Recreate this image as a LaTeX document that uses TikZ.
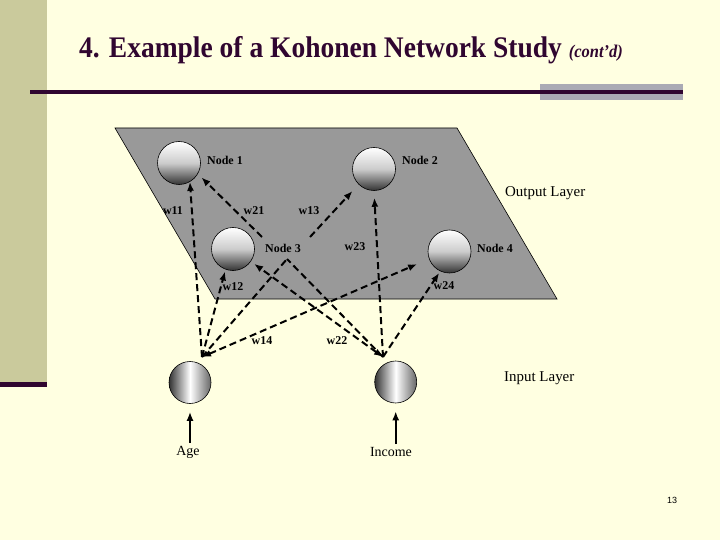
\documentclass[tikz,border=0pt]{standalone}
\usepackage{fontspec}
\setmainfont{Liberation Serif}
\newfontfamily\pagenumfont{Liberation Sans}
\usepackage{xcolor}
\usepackage{tikz}
\usetikzlibrary{arrows.meta, positioning, calc}

\definecolor{slidebg}{RGB}{255,255,225}
\definecolor{sidebar}{RGB}{202,202,156}
\definecolor{titlecol}{RGB}{48,6,48}
\definecolor{rulegray}{RGB}{170,170,180}
\definecolor{planegray}{RGB}{153,153,153}

\begin{document}
\begin{tikzpicture}[x=1bp, y=-1bp,
    outnode/.style={circle, draw, line width=0.6bp, minimum size=43bp, inner sep=0pt,
        top color=white, bottom color=black!80, middle color=black!20},
    innode/.style={circle, draw, line width=0.6bp, minimum size=42bp, inner sep=0pt,
        left color=black!80, right color=black!60, middle color=white},
    wlink/.style={line width=2bp, dash pattern=on 7bp off 4bp},
    wtip/.style={-{Latex[length=9bp,width=7bp]}},
    wtips/.style={{Latex[length=9bp,width=7bp]}-{Latex[length=9bp,width=7bp]}},
    nlbl/.style={font=\fontsize{12}{14}\selectfont\bfseries, inner sep=0pt, anchor=west},
    wlbl/.style={font=\fontsize{12}{14}\selectfont\bfseries, inner sep=0pt},
    layerlbl/.style={font=\fontsize{15}{17}\selectfont, inner sep=0pt, anchor=west},
    inlbl/.style={font=\fontsize{14}{16}\selectfont, inner sep=0pt},
    inarrow/.style={line width=1.8bp, -{Latex[length=9bp,width=7bp]}}]

    % Slide background and frame
    \useasboundingbox (0,0) rectangle (720,540);
    \fill[slidebg] (0,0) rectangle (720,540);
    \fill[sidebar] (0,0) rectangle (47,382);
    \fill[titlecol] (0,382) rectangle (47,387);

    % Title and rule under it
    \node[anchor=base west, inner sep=0pt, text=titlecol, xscale=0.92,
          font=\fontsize{30}{32}\selectfont\bfseries] (title) at (79,58)
          {4. Example of a Kohonen Network Study {\fontsize{18}{20}\selectfont\itshape (cont'd)}};
    \fill[rulegray] (540,84) rectangle (683,100);
    \draw[titlecol, line width=3.5bp] (30,92) -- (683,92);

    % Output layer plane
    \draw[fill=planegray, line width=0.6bp] (115,128) -- (457,128) -- (557,299) -- (215,299) -- cycle;

    % Output nodes
    \node[outnode] (n1) at (179,163) {};
    \node[outnode] (n2) at (374,169) {};
    \node[outnode] (n3) at (233,249) {};
    \node[outnode] (n4) at (449.5,251.5) {};
    \node[nlbl] (n1lbl) at (207,160) {Node 1};
    \node[nlbl] (n2lbl) at (402,160) {Node 2};
    \node[nlbl] (n3lbl) at (265,248) {Node 3};
    \node[nlbl] (n4lbl) at (477,248) {Node 4};
    \node[layerlbl] (outlbl) at (505,193) {Output Layer};

    % Input nodes
    \node[innode] (age) at (190,382.5) {};
    \node[innode] (inc) at (395.7,382) {};
    \node[layerlbl] (inlayer) at (504,378) {Input Layer};
    \node[inlbl] (agelbl) at (188,452) {Age};
    \node[inlbl] (inclbl) at (391,452) {Income};
    \draw[inarrow, shorten <=3bp, shorten >=8bp] (age.south |- agelbl.north) -- (age.south);
    \draw[inarrow, shorten <=3bp, shorten >=8bp] (inc.south |- inclbl.north) -- (inc.south);

    % Points where the weight links meet
    \coordinate (agehub) at (202,357);
    \coordinate (inchub) at (383,357);
    \coordinate (x3) at (287,259);
    \coordinate (w13s) at (310,237);
    \coordinate (w21s) at (262,237);

    % Weights from Age
    \draw[wlink, wtip] (agehub) -- (n1.-60);
    \draw[wlink, wtip, shorten >=2bp] (agehub) -- (n3.-110);
    \draw[wlink] (agehub) -- (x3);
    \draw[wlink, wtip, shorten >=9bp] (w13s) -- (n2.-135);
    \draw[wlink, wtips, shorten >=13bp] (agehub) -- (n4.-160);

    % Weights from Income
    \draw[wlink] (inchub) -- (x3);
    \draw[wlink, wtip, shorten >=5bp] (w21s) -- (n1.-30);
    \draw[wlink, wtips, shorten >=4bp] (inchub) -- (n3.-35);
    \draw[wlink, wtip, shorten >=7bp] (inchub) -- (n2.south);
    \draw[wlink, wtip, shorten >=2bp] (inchub) -- (n4.-115);

    % Weight labels
    \node[wlbl] (w11) at (173,211) {w11};
    \node[wlbl] (w21) at (254,211) {w21};
    \node[wlbl] (w13) at (309,211) {w13};
    \node[wlbl] (w23) at (355,247) {w23};
    \node[wlbl] (w12) at (233,287) {w12};
    \node[wlbl] (w24) at (444,286) {w24};
    \node[wlbl] (w14) at (262,341) {w14};
    \node[wlbl] (w22) at (337,341) {w22};

    % Page number
    \node[font=\pagenumfont\fontsize{9}{11}\selectfont, inner sep=0pt] (pnum) at (672,500) {13};

\end{tikzpicture}
\end{document}
